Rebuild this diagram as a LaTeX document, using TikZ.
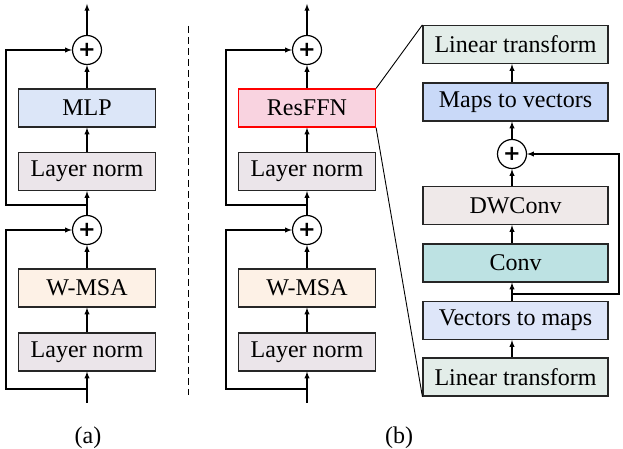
\documentclass[tikz,border=0pt]{standalone}
\usepackage{fontspec}
\setmainfont{Liberation Serif}
\newfontfamily\plusfont{DejaVu Sans}
\usepackage{xcolor}
\usepackage{tikz}
\definecolor{mlpblue}{HTML}{DCE6F8}
\definecolor{normgray}{HTML}{EBE5EA}
\definecolor{msaorange}{HTML}{FDF1E6}
\definecolor{ffnpink}{HTML}{F9D3E0}
\definecolor{lingreen}{HTML}{E3EDE9}
\definecolor{mapblue}{HTML}{C9D9F8}
\definecolor{dwgray}{HTML}{EFE9E9}
\definecolor{convteal}{HTML}{BDE2E3}
\definecolor{vecblue}{HTML}{DEE6F9}

\begin{document}
\begin{tikzpicture}[x=1pt,y=1pt,
    blk/.style={draw=black!85, line width=1.2pt, minimum height=38pt, inner sep=0pt, font=\fontsize{24}{26}\selectfont},
    blka/.style={blk, minimum width=137pt},
    blkr/.style={blk, minimum width=185pt},
    sumnode/.style={circle, draw, line width=1.2pt, minimum size=29pt, inner sep=0pt, font=\plusfont\bfseries\fontsize{21}{21}\selectfont},
    arr/.style={-latex, line width=1.3pt}]
    \useasboundingbox (0,0) rectangle (623,449);

    % (a)
    \node[blka, fill=normgray] (lnA1) at (87,97) {Layer norm};
    \node[blka, fill=msaorange] (msaA) at (87,161) {W-MSA};
    \node[sumnode] (sumA1) at (87,219) {+};
    \node[blka, fill=normgray] (lnA2) at (87,277.5) {Layer norm};
    \node[blka, fill=mlpblue] (mlp) at (87,341) {MLP};
    \node[sumnode] (sumA2) at (87,399) {+};
    \coordinate (inA) at (87,46);
    \coordinate (brA1) at (87,60);
    \coordinate (brA2) at (87,244);
    \coordinate (outA) at (87,445);
    \draw[arr] (inA) -- (lnA1);
    \draw[arr] (lnA1) -- (msaA);
    \draw[arr] (msaA) -- (sumA1);
    \draw[arr] (sumA1) -- (lnA2);
    \draw[arr] (lnA2) -- (mlp);
    \draw[arr] (mlp) -- (sumA2);
    \draw[arr] (sumA2) -- (outA);
    \draw[arr] (brA1) -- ++(-81,0) |- (sumA1);
    \draw[arr] (brA2) -- ++(-81,0) |- (sumA2);
    \node[font=\fontsize{24}{26}\selectfont] (capA) at (88,11) {(a)};

    % separator
    \draw[line width=1pt, dash pattern=on 7pt off 4pt] (188,423) -- (188,54);

    % (b)
    \node[blka, fill=normgray] (lnB1) at (307,97) {Layer norm};
    \node[blka, fill=msaorange] (msaB) at (307,161) {W-MSA};
    \node[sumnode] (sumB1) at (307,219) {+};
    \node[blka, fill=normgray] (lnB2) at (307,277.5) {Layer norm};
    \node[blka, fill=ffnpink, draw=red] (ffn) at (307,341) {ResFFN};
    \node[sumnode] (sumB2) at (307,399) {+};
    \coordinate (inB) at (307,46);
    \coordinate (brB1) at (307,60);
    \coordinate (brB2) at (307,244);
    \coordinate (outB) at (307,445);
    \draw[arr] (inB) -- (lnB1);
    \draw[arr] (lnB1) -- (msaB);
    \draw[arr] (msaB) -- (sumB1);
    \draw[arr] (sumB1) -- (lnB2);
    \draw[arr] (lnB2) -- (ffn);
    \draw[arr] (ffn) -- (sumB2);
    \draw[arr] (sumB2) -- (outB);
    \draw[arr] (brB1) -- ++(-81,0) |- (sumB1);
    \draw[arr] (brB2) -- ++(-81,0) |- (sumB2);
    \node[font=\fontsize{24}{26}\selectfont] (capB) at (399,11) {(b)};

    % ResFFN detail
    \node[blkr, fill=lingreen] (lt1) at (515.5,72) {Linear transform};
    \node[blkr, fill=vecblue] (v2m) at (515.5,128.5) {Vectors to maps};
    \node[blkr, fill=convteal] (conv) at (515.5,186) {Conv};
    \node[blkr, fill=dwgray] (dw) at (515.5,243.5) {DWConv};
    \node[sumnode] (sumR) at (512,295) {+};
    \node[blkr, fill=mapblue] (m2v) at (515.5,347) {Maps to vectors};
    \node[blkr, fill=lingreen] (lt2) at (515.5,404.5) {Linear transform};
    \coordinate (brR) at (512,155);
    \draw[arr] (lt1.north -| sumR) -- (v2m.south -| sumR);
    \draw[arr] (v2m.north -| sumR) -- (conv.south -| sumR);
    \draw[arr] (conv.north -| sumR) -- (dw.south -| sumR);
    \draw[arr] (dw.north -| sumR) -- (sumR);
    \draw[arr] (sumR) -- (m2v.south -| sumR);
    \draw[arr] (m2v.north -| sumR) -- (lt2.south -| sumR);
    \draw[arr] (brR) -- ++(107,0) |- (sumR);
    \draw[line width=0.9pt] (ffn.north east) -- (lt2.north west);
    \draw[line width=0.9pt] (ffn.south east) -- (lt1.south west);
\end{tikzpicture}
\end{document}
